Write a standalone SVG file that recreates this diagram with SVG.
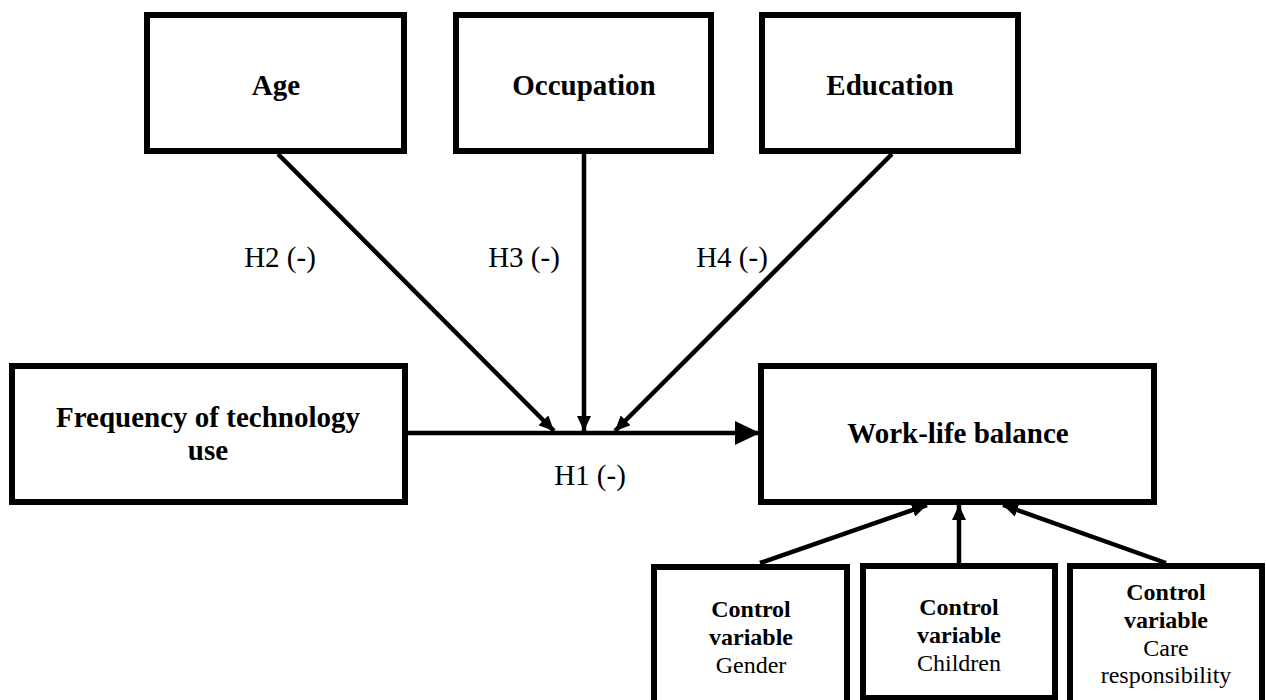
<svg xmlns="http://www.w3.org/2000/svg" width="1266" height="700" viewBox="0 0 1266 700">
<defs>
<style>
.box{fill:#fff;stroke:#000;stroke-width:6}
.conn{stroke:#000;stroke-width:4.5;fill:none}
text{font-family:'Liberation Serif','Times New Roman',Times,serif;text-anchor:middle;fill:#000}
.tb{font-weight:bold;font-size:29px}
.tr{font-size:29px}
.sb{font-weight:bold;font-size:24px}
.sr{font-size:24px}
</style>
<marker id="ah" markerWidth="16" markerHeight="14" refX="15" refY="7" orient="auto" markerUnits="userSpaceOnUse">
<path d="M0,0 L15,7 L0,14 Z" fill="#000"/>
</marker>
<marker id="ahBig" markerWidth="26" markerHeight="26" refX="25" refY="13" orient="auto" markerUnits="userSpaceOnUse">
<path d="M0,1 L25,13 L0,25 Z" fill="#000"/>
</marker>
</defs>
<g id="connectors" font-family="Liberation Serif, serif">
<line class="conn" x1="408" y1="433" x2="760" y2="433" marker-end="url(#ahBig)"/>
<line class="conn" x1="278" y1="154" x2="554" y2="431" marker-end="url(#ah)"/>
<line class="conn" x1="584" y1="154" x2="584" y2="431" marker-end="url(#ah)"/>
<line class="conn" x1="892" y1="154" x2="615" y2="431" marker-end="url(#ah)"/>
<line class="conn" x1="760" y1="563" x2="927" y2="505" marker-end="url(#ah)"/>
<line class="conn" x1="959" y1="563" x2="959" y2="505" marker-end="url(#ah)"/>
<line class="conn" x1="1166" y1="563" x2="1003" y2="505" marker-end="url(#ah)"/>
<text class="tr" x="280" y="267">H2 (-)</text>
<text class="tr" x="524" y="267">H3 (-)</text>
<text class="tr" x="732" y="267">H4 (-)</text>
<text class="tr" x="590" y="485">H1 (-)</text>
</g>
<g id="age">
<rect class="box" x="147" y="15" width="257" height="136"/>
<text class="tb" x="276" y="95">Age</text>
</g>
<g id="occupation">
<rect class="box" x="456" y="15" width="255" height="136"/>
<text class="tb" x="584" y="95">Occupation</text>
</g>
<g id="education">
<rect class="box" x="762" y="15" width="256" height="136"/>
<text class="tb" x="890" y="95">Education</text>
</g>
<g id="frequency">
<rect class="box" x="12" y="366" width="393" height="136"/>
<text class="tb" x="208" y="427">Frequency of technology</text>
<text class="tb" x="208" y="460">use</text>
</g>
<g id="worklife">
<rect class="box" x="761" y="366" width="393" height="136"/>
<text class="tb" x="958" y="443">Work-life balance</text>
</g>
<g id="control-gender">
<rect class="box" x="654" y="567" width="193" height="140"/>
<text class="sb" x="751" y="617">Control</text>
<text class="sb" x="751" y="645">variable</text>
<text class="sr" x="751" y="673">Gender</text>
</g>
<g id="control-children">
<rect class="box" x="863" y="566" width="192" height="132"/>
<text class="sb" x="959" y="615">Control</text>
<text class="sb" x="959" y="643">variable</text>
<text class="sr" x="959" y="671">Children</text>
</g>
<g id="control-care">
<rect class="box" x="1070" y="566" width="192" height="140"/>
<text class="sb" x="1166" y="600">Control</text>
<text class="sb" x="1166" y="628">variable</text>
<text class="sr" x="1166" y="656">Care</text>
<text class="sr" x="1166" y="683">responsibility</text>
</g>
</svg>
